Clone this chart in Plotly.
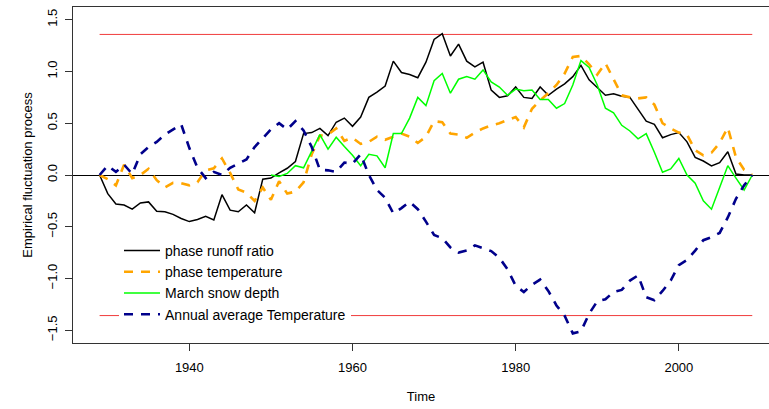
import plotly.graph_objects as go

years = list(range(1929, 2010))
years_snow = list(range(1950, 2010))

runoff_ratio = [
    0, -0.18, -0.28, -0.29, -0.33, -0.27, -0.26, -0.35, -0.355, -0.38,
    -0.42, -0.45, -0.43, -0.40, -0.435, -0.19, -0.34, -0.355, -0.29, -0.365,
    -0.04, -0.03, 0.02, 0.065, 0.13, 0.40, 0.41, 0.45, 0.38, 0.51,
    0.55, 0.47, 0.56, 0.75, 0.80, 0.86, 1.10, 0.99, 0.97, 0.94,
    1.09, 1.31, 1.365, 1.15, 1.265, 1.10, 1.045, 1.09, 0.82, 0.75,
    0.765, 0.85, 0.75, 0.74, 0.85, 0.77, 0.83, 0.88, 0.95, 1.06,
    0.92, 0.845, 0.77, 0.785, 0.76, 0.75, 0.63, 0.52, 0.49, 0.36,
    0.39, 0.41, 0.32, 0.17, 0.135, 0.087, 0.12, 0.225, 0.01, 0.0,
    0.0,
]

temperature_phase = [
    0, -0.04, -0.10, 0.10, -0.03, 0.0, 0.06, -0.05, -0.12, -0.075,
    -0.08, -0.10, -0.07, 0.045, 0.065, 0.16, 0.02, -0.14, -0.17, -0.25,
    -0.12, -0.24, -0.06, -0.18, -0.16, -0.07, 0.20, 0.38, 0.39, 0.45,
    0.33, 0.36, 0.30, 0.32, 0.37, 0.34, 0.37, 0.40, 0.37, 0.31,
    0.37, 0.52, 0.51, 0.40, 0.39, 0.36, 0.41, 0.45, 0.48, 0.50,
    0.53, 0.56, 0.46, 0.64, 0.72, 0.79, 0.87, 0.98, 1.14, 1.15,
    1.07, 0.97, 1.08, 0.93, 0.77, 0.75, 0.74, 0.75, 0.68, 0.50,
    0.45, 0.41, 0.39, 0.24, 0.19, 0.215, 0.31, 0.46, 0.17, 0.05,
    0,
]

snow_depth = [
    0, -0.015, 0.015, 0.09, 0.07, 0.225, 0.39, 0.25, 0.365, 0.275,
    0.19, 0.09, 0.20, 0.185, 0.07, 0.40, 0.40, 0.55, 0.75, 0.67,
    0.91, 0.98, 0.79, 0.925, 0.95, 0.925, 1.015, 0.90, 0.85, 0.77,
    0.83, 0.815, 0.82, 0.73, 0.73, 0.645, 0.69, 0.87, 1.105, 1.04,
    0.87, 0.645, 0.60, 0.48, 0.425, 0.35, 0.40, 0.22, 0.026, 0.058,
    0.16, 0.0, -0.08, -0.25, -0.33, -0.12, 0.09, -0.03, -0.145, 0,
]

annual_temp = [
    0, 0.09, 0.03, 0.10, 0.01, 0.20, 0.27, 0.32, 0.39, 0.44,
    0.49, 0.26, 0.07, -0.03, 0.03, 0.0, 0.07, 0.11, 0.15, 0.27,
    0.36, 0.44, 0.50, 0.44, 0.52, 0.43, 0.27, 0.05, 0.045, 0.03,
    0.12, 0.11, 0.20, 0.0, -0.145, -0.22, -0.37, -0.32, -0.26, -0.33,
    -0.45, -0.58, -0.61, -0.70, -0.75, -0.73, -0.68, -0.71, -0.735, -0.80,
    -0.91, -1.07, -1.13, -1.06, -1.01, -1.12, -1.26, -1.36, -1.53, -1.51,
    -1.34, -1.22, -1.20, -1.13, -1.11, -1.02, -0.97, -1.18, -1.21, -1.12,
    -1.02, -0.87, -0.82, -0.73, -0.63, -0.60, -0.56, -0.41, -0.23, -0.10,
    0,
]

boundary = 1.358
x_ticks = [1940, 1960, 1980, 2000]
y_ticks = [-1.5, -1.0, -0.5, 0.0, 0.5, 1.0, 1.5]
y_tick_text = ["\u22121.5", "\u22121.0", "\u22120.5", "0.0", "0.5", "1.0", "1.5"]

FONT = "Liberation Sans, Arial, Helvetica, sans-serif"
DASH = "9px,8px"

fig = go.Figure()

# boundaries (not in legend)
for b in (boundary, -boundary):
    fig.add_trace(go.Scatter(x=[years[0], years[-1]], y=[b, b], mode="lines",
                             line=dict(color="#f03c3c", width=1),
                             showlegend=False, hoverinfo="skip"))

fig.add_trace(go.Scatter(x=years, y=runoff_ratio, mode="lines",
                         name="phase runoff ratio",
                         line=dict(color="black", width=1.5)))
fig.add_trace(go.Scatter(x=years, y=temperature_phase, mode="lines",
                         name="phase temperature",
                         line=dict(color="#FFA500", width=2.6, dash=DASH)))
fig.add_trace(go.Scatter(x=years_snow, y=snow_depth, mode="lines",
                         name="March snow depth",
                         line=dict(color="#00FF00", width=1.5)))
fig.add_trace(go.Scatter(x=years, y=annual_temp, mode="lines",
                         name="Annual average Temperature",
                         line=dict(color="#00008B", width=2.6, dash=DASH)))

fig.update_layout(
    width=769, height=409,
    margin=dict(l=73, r=0, t=7, b=66),
    paper_bgcolor="white", plot_bgcolor="white",
    font=dict(family=FONT, size=13, color="black"),
    showlegend=True,
    legend=dict(x=0.0661, y=0.3214, xanchor="left", yanchor="top",
                bgcolor="white", borderwidth=0, font=dict(size=14),
                traceorder="normal", itemwidth=36),
    xaxis=dict(range=[1925.74, 2011.05], showgrid=False, zeroline=False,
               showline=True, mirror=True, linecolor="#333", linewidth=1,
               ticks="outside", ticklen=7, tickcolor="#333",
               tickvals=x_ticks, ticktext=[str(v) for v in x_ticks],
               tickfont=dict(size=13), ticklabelstandoff=5,
               title=dict(text="Time", font=dict(size=13), standoff=18)),
    yaxis=dict(range=[-1.623, 1.623], showgrid=False,
               zeroline=True, zerolinecolor="black", zerolinewidth=1,
               showline=True, mirror=False, linecolor="#333", linewidth=1,
               ticks="outside", ticklen=7, tickcolor="#333",
               tickvals=y_ticks, ticktext=y_tick_text, tickangle=-90,
               tickfont=dict(size=13), ticklabelstandoff=3,
               title=dict(text="Empirical fluctuation process",
                          font=dict(size=13), standoff=9)),
)

fig.write_html("out.html")
